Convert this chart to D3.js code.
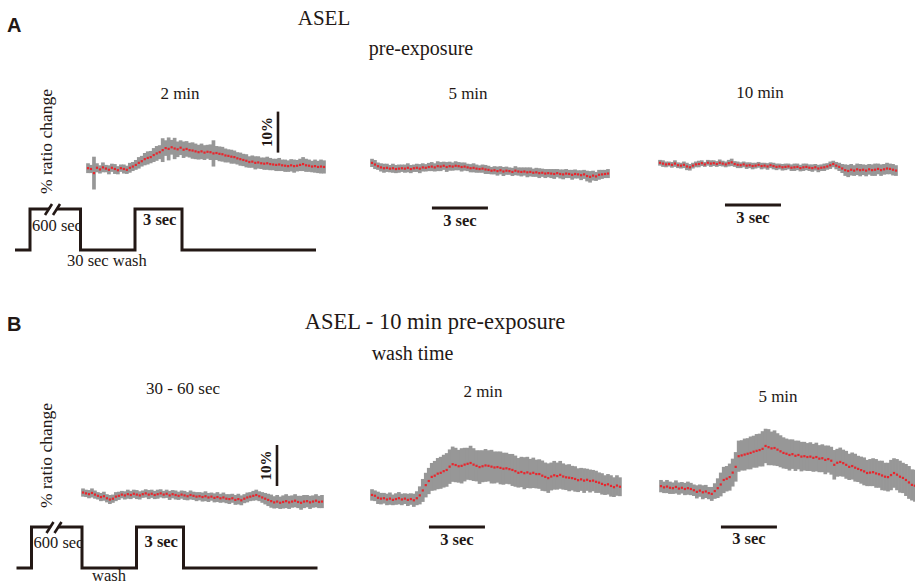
<!DOCTYPE html>
<html><head><meta charset="utf-8">
<script src="https://cdn.jsdelivr.net/npm/d3@7"></script>
<style>
html,body{margin:0;padding:0;background:#fff;}
svg{display:block;}
text{fill:#231815;font-family:"Liberation Serif","Times New Roman",serif;}
</style></head><body>
<svg id="fig" width="915" height="585"></svg>
<script>
// Sampling interval of the calcium imaging traces (s)
const dt = 0.16;

// A: ASEL ratio change (%) after 2, 5 and 10 min pre-exposure — mean and SEM per frame
const preExp2Mean = [0.2,0.0,-1.0,0.3,-0.1,0.4,0.1,-0.2,0.3,0.0,-0.3,0.2,0.0,-0.2,0.3,0.6,
  1.0,1.5,1.9,2.4,2.7,2.9,3.4,3.8,4.1,4.6,5.1,
  4.9,5.3,5.0,4.8,5.2,4.7,4.9,4.6,4.5,4.3,4.1,
  4.3,4.0,4.2,4.1,3.8,3.9,3.7,3.6,3.3,3.2,
  3.0,2.9,2.6,2.4,2.2,2.0,1.7,1.8,1.5,1.6,
  1.4,1.3,1.4,1.2,1.1,1.0,1.1,0.9,0.8,0.7,
  0.9,0.7,0.8,1.0,1.2,0.9,0.8,0.6,0.7,0.5,0.6,0.5];
const preExp2Sem = [1.2,1.0,4.0,1.1,1.0,1.2,0.9,1.1,1.0,1.2,1.0,0.9,1.1,1.0,1.2,1.1,
  1.2,1.4,1.3,1.5,1.6,1.5,1.7,1.8,1.7,2.9,1.9,
  2.8,1.8,2.6,1.9,1.8,2.0,1.9,1.8,2.0,1.9,1.8,
  1.9,1.8,1.7,1.9,3.2,1.7,1.8,1.8,1.7,1.6,
  1.7,1.6,1.5,1.6,1.5,1.6,1.4,1.5,1.6,1.5,
  1.4,1.5,1.6,1.5,1.4,1.5,1.6,1.4,1.5,1.4,
  1.5,1.6,1.4,1.5,1.7,1.6,1.5,1.4,1.6,1.5,1.7,1.6];

const preExp5Mean = [1.0,0.6,0.2,-0.1,-0.3,-0.2,-0.4,-0.3,-0.5,-0.4,
  -0.3,-0.4,-0.2,-0.5,-0.3,-0.2,-0.4,-0.1,-0.2,0.0,
  0.1,-0.1,0.2,0.1,0.3,0.0,0.2,0.1,0.3,0.2,
  0.0,0.1,-0.1,-0.3,-0.2,-0.4,-0.5,-0.4,-0.6,-0.7,
  -0.9,-0.8,-1.0,-0.8,-1.1,-0.9,-1.0,-1.2,-0.9,-1.1,
  -1.2,-1.1,-1.3,-1.2,-1.4,-1.3,-1.5,-1.4,-1.6,-1.5,
  -1.6,-1.7,-1.5,-1.7,-1.8,-1.6,-1.7,-1.9,-1.7,-1.8,
  -2.0,-1.8,-2.2,-2.4,-2.1,-2.3,-1.9,-1.8,-1.7,-1.6];
const preExp5Sem = [1.0,1.1,0.9,1.0,1.1,1.0,0.9,1.1,1.0,1.0,
  0.9,1.0,1.1,1.0,0.9,1.0,1.1,1.0,0.9,1.0,
  1.1,1.0,1.2,1.1,1.0,1.2,1.1,1.0,1.1,1.0,
  1.1,1.0,0.9,1.0,1.1,1.0,0.9,1.0,1.1,1.0,
  0.9,1.0,1.1,1.0,1.1,1.0,0.9,1.0,1.1,1.0,
  1.1,1.0,1.2,1.1,1.0,1.1,1.2,1.0,1.1,1.0,
  1.1,1.2,1.0,1.1,1.2,1.1,1.0,1.2,1.1,1.0,
  1.2,1.1,1.3,1.4,1.2,1.1,1.2,1.1,1.0,1.1];

const preExp10Mean = [0.3,0.1,-0.1,0.0,-0.2,0.1,-0.3,-0.4,-0.2,-0.6,
  -0.8,-0.4,-0.1,0.0,0.2,-0.1,0.3,0.1,0.2,0.0,
  0.3,0.1,-0.1,0.2,0.4,0.0,-0.2,-0.3,-0.1,-0.4,
  -0.3,-0.5,-0.4,-0.2,-0.5,-0.4,-0.6,-0.3,-0.5,-0.7,
  -0.6,-0.8,-0.7,-0.6,-0.9,-0.8,-0.7,-1.0,-0.8,-0.7,
  -0.9,-1.0,-0.8,-1.1,-0.9,-0.8,-0.6,-0.3,0.0,-0.4,
  -0.7,-1.1,-1.5,-1.7,-1.4,-1.6,-1.3,-1.5,-1.4,-1.6,
  -1.3,-1.5,-1.4,-1.2,-1.5,-1.3,-1.1,-1.2,-1.4,-1.6];
const preExp10Sem = [0.7,0.8,0.7,0.6,0.7,0.8,0.7,0.7,0.8,0.9,
  0.8,0.7,0.7,0.8,0.7,0.6,0.7,0.8,0.7,0.7,
  0.8,0.7,0.7,0.8,0.9,0.7,0.8,0.7,0.7,0.8,
  0.7,0.8,0.7,0.7,0.8,0.7,0.8,0.7,0.8,0.8,
  0.7,0.8,0.8,0.7,0.8,0.9,0.8,0.8,0.9,0.8,
  0.8,0.9,0.8,0.9,0.8,0.9,0.8,0.9,0.8,0.9,
  1.0,1.1,1.4,1.5,1.4,1.3,1.4,1.5,1.3,1.4,
  1.3,1.4,1.5,1.3,1.4,1.3,1.4,1.3,1.4,1.3];

// B: ASEL after 10 min pre-exposure, imaged 30-60 s, 2 min and 5 min into the wash
const wash30Mean = [0.6,0.4,0.2,0.5,0.1,-0.2,-0.5,-0.3,-0.8,-1.1,
  -0.9,-0.4,-0.2,0.1,-0.1,0.2,0.0,0.3,0.1,-0.1,
  0.2,0.4,0.1,0.3,0.0,0.2,0.4,0.1,0.3,-0.1,
  0.2,0.0,-0.2,0.1,-0.1,-0.3,0.0,-0.2,-0.4,-0.3,
  -0.5,-0.3,-0.6,-0.4,-0.7,-0.5,-0.8,-0.6,-0.9,-1.0,
  -0.8,-1.2,-1.0,-1.3,-0.9,-0.6,-0.4,-0.2,0.0,-0.3,
  -0.6,-0.9,-1.2,-1.5,-1.8,-1.6,-1.9,-1.7,-1.5,-1.8,
  -1.6,-1.4,-1.7,-1.9,-1.6,-1.5,-1.8,-1.6,-1.4,-1.7,-1.6];
const wash30Sem = [1.0,0.9,1.0,1.1,1.0,0.9,1.0,1.1,1.0,1.1,
  1.0,1.1,1.0,0.9,1.0,1.1,1.0,1.0,1.1,1.0,
  0.9,1.0,1.1,1.0,1.0,1.1,1.0,0.9,1.0,1.1,
  1.0,1.1,1.0,1.0,1.1,1.0,1.1,1.0,1.1,1.0,
  1.1,1.2,1.1,1.0,1.1,1.2,1.1,1.2,1.1,1.2,
  1.1,1.2,1.3,1.2,1.1,1.2,1.1,1.2,1.3,1.2,
  1.3,1.4,1.5,1.6,1.5,1.6,1.5,1.6,1.7,1.6,
  1.5,1.6,1.5,1.7,1.6,1.5,1.6,1.5,1.6,1.5,1.6];

const wash2Mean = [0.5,0.3,-0.2,-0.4,-0.3,-0.6,-0.4,-0.7,-0.5,-0.3,-0.6,-0.4,-0.7,-0.5,-0.8,-0.3,
  0.4,1.6,2.9,3.9,4.9,5.2,5.7,5.9,6.3,6.6,7.4,8.0,
  7.8,7.5,7.6,7.9,8.1,8.3,7.9,7.6,7.3,7.5,7.7,7.6,7.4,7.2,7.3,7.1,
  6.9,7.0,6.8,6.6,6.3,5.9,6.1,5.8,6.0,5.7,5.9,5.6,5.6,
  5.2,4.9,4.6,5.0,5.3,5.1,5.4,5.0,4.8,4.7,4.6,4.4,4.1,4.3,4.0,4.2,3.9,4.0,3.7,3.5,3.2,2.9,3.1,2.7,2.4,2.8,2.5];
const wash2Sem = [1.4,1.3,1.5,1.4,1.3,1.4,1.5,1.3,1.4,1.5,1.4,1.3,1.5,1.4,1.6,1.7,
  2.2,2.8,3.0,3.2,3.4,3.6,3.8,3.9,4.0,4.1,4.2,4.3,
  4.2,4.0,4.3,4.1,3.9,4.2,4.0,3.8,4.1,3.9,4.0,3.8,4.1,3.9,3.8,4.0,
  3.9,3.8,3.7,3.9,3.8,3.6,3.7,3.9,3.8,3.6,3.7,3.5,3.6,
  3.7,3.5,3.6,3.4,3.5,3.3,3.4,3.2,3.1,3.3,3.0,3.1,2.9,2.8,3.0,2.7,2.8,2.6,2.7,2.5,2.6,2.4,2.5,2.6,2.4,2.5,2.3];

const wash5Mean = [0.7,0.4,0.6,0.3,0.2,0.5,0.1,0.3,0.0,0.2,
  0.0,-0.3,-0.7,-0.4,-0.8,-0.6,-1.0,-1.2,-0.5,0.2,
  1.1,2.2,2.5,2.9,4.0,5.4,8.0,8.2,8.4,8.6,
  8.8,9.1,9.3,9.5,9.8,10.5,10.2,9.9,10.0,9.6,
  9.2,8.8,8.6,8.3,8.5,8.1,8.3,7.9,8.0,7.8,
  7.9,7.6,7.8,7.4,7.5,7.1,7.3,6.9,5.9,6.4,
  6.6,6.3,5.9,5.4,5.6,5.2,4.9,4.6,4.3,3.9,
  4.0,4.1,3.8,3.6,3.3,3.0,2.9,3.4,3.9,3.5,
  3.0,2.7,2.2,1.6,1.0,0.8];
const wash5Sem = [1.5,1.4,1.6,1.5,1.4,1.6,1.5,1.4,1.5,1.6,
  1.5,1.4,1.6,1.5,1.7,1.6,1.5,1.7,1.9,2.4,
  2.9,3.2,3.1,3.3,3.4,3.6,3.8,3.7,3.9,3.8,
  4.0,3.9,4.1,4.0,4.3,4.2,4.4,4.1,4.3,4.0,
  3.9,3.8,3.7,3.8,3.6,3.7,3.5,3.6,3.5,3.4,
  3.5,3.4,3.5,3.3,3.4,3.5,3.3,3.4,3.6,3.4,
  3.5,3.3,3.4,3.2,3.3,3.4,3.2,3.3,3.4,3.2,
  3.3,3.4,3.5,3.3,3.6,3.4,3.5,3.7,3.6,3.8,
  3.9,3.7,3.9,4.0,3.8,3.9];

// Stimulus protocol schematic: level (0 = buffer, 1 = NaCl) and relative duration of each step
const stimLevels = [0, 1, 0, 1, 0];
const stimSpans = [1.5, 5.05, 5.45, 4.7, 13.4];

// ---------------------------------------------------------------- drawing
const INK = "#231815", BAND = "#979797", RED = "#e8262d";
const pxPerSec = 18.67, pxPerPct = 4.1;
const svg = d3.select("#fig");

const panels = [
  {name: "2 min", mean: preExp2Mean, sem: preExp2Sem, x0: 88, y0: 169, lx: 180, ly: 99,
   pctBar: {x: 278, from: 4, to: 14, tx: 272}},
  {name: "5 min", mean: preExp5Mean, sem: preExp5Sem, x0: 372, y0: 167, lx: 468, ly: 99,
   secBar: {t: 3.21, y: 208, ty: 226}},
  {name: "10 min", mean: preExp10Mean, sem: preExp10Sem, x0: 660, y0: 164, lx: 760, ly: 98,
   secBar: {t: 3.48, y: 205, ty: 223}},
  {name: "30 - 60 sec", mean: wash30Mean, sem: wash30Sem, x0: 83, y0: 495, lx: 183, ly: 394,
   pctBar: {x: 277, from: 2.2, to: 12.2, tx: 271}},
  {name: "2 min", mean: wash2Mean, sem: wash2Sem, x0: 372, y0: 497, lx: 483, ly: 397,
   secBar: {t: 3.05, y: 527, ty: 545}},
  {name: "5 min", mean: wash5Mean, sem: wash5Sem, x0: 661, y0: 489, lx: 778, ly: 402,
   secBar: {t: 3.21, y: 527, ty: 544}}
];

panels.forEach(p => {
  const x = d3.scaleLinear().domain([0, 1]).range([p.x0, p.x0 + pxPerSec]);
  const y = d3.scaleLinear().domain([0, 1]).range([p.y0, p.y0 - pxPerPct]);
  const g = svg.append("g");
  const half = pxPerSec * dt / 2 + 0.35;

  // SEM band, one bar per frame
  g.append("g").selectAll("rect").data(p.mean).join("rect")
    .attr("x", (d, i) => x(i * dt) - half)
    .attr("width", 2 * half)
    .attr("y", (d, i) => y(d + p.sem[i]))
    .attr("height", (d, i) => y(d - p.sem[i]) - y(d + p.sem[i]))
    .attr("fill", BAND);

  // mean, one dot per frame
  g.append("g").selectAll("rect").data(p.mean).join("rect")
    .attr("x", (d, i) => x(i * dt) - 1.1)
    .attr("y", d => y(d) - 1.1)
    .attr("width", 2.2).attr("height", 2.2)
    .attr("fill", RED);

  g.append("text").attr("x", p.lx).attr("y", p.ly)
    .attr("text-anchor", "middle").style("font-size", "17px").text(p.name);

  if (p.secBar) {
    const b = p.secBar;
    g.append("line").attr("x1", x(b.t)).attr("x2", x(b.t + 3))
      .attr("y1", b.y).attr("y2", b.y).attr("stroke", INK).attr("stroke-width", 3);
    g.append("text").attr("x", (x(b.t) + x(b.t + 3)) / 2).attr("y", b.ty)
      .attr("text-anchor", "middle").style("font-size", "16.5px").style("font-weight", "bold")
      .text("3 sec");
  }
  if (p.pctBar) {
    const b = p.pctBar;
    g.append("line").attr("x1", b.x).attr("x2", b.x)
      .attr("y1", y(b.from)).attr("y2", y(b.to)).attr("stroke", INK).attr("stroke-width", 2.6);
    g.append("text")
      .attr("transform", `translate(${b.tx},${(y(b.from) + y(b.to)) / 2}) rotate(-90)`)
      .attr("text-anchor", "middle").style("font-size", "15px").style("font-weight", "bold")
      .text("10%");
  }
});

// Figure headings
const heads = [
  {t: "A", x: 7, y: 31.5, sans: true},
  {t: "B", x: 7, y: 331, sans: true},
  {t: "ASEL", x: 324, y: 25, size: 21, mid: true},
  {t: "pre-exposure", x: 421, y: 55, size: 20, mid: true},
  {t: "ASEL - 10 min pre-exposure", x: 435, y: 329, size: 22.5, mid: true},
  {t: "wash time", x: 412.5, y: 360, size: 20, mid: true}
];
heads.forEach(h => {
  const t = svg.append("text").attr("x", h.x).attr("y", h.y).text(h.t);
  if (h.sans) t.style("font-family", "'Liberation Sans', Arial, sans-serif")
    .style("font-weight", "bold").style("font-size", "20px");
  else t.style("font-size", h.size + "px");
  if (h.mid) t.attr("text-anchor", "middle");
});

// y-axis captions
[141.5, 455.5].forEach(cy => {
  svg.append("text").attr("transform", `translate(52,${cy}) rotate(-90)`)
    .attr("text-anchor", "middle").style("font-size", "17.5px").text("% ratio change");
});

// Stimulus protocol schematics
const protocols = [
  {x0: 15, yLow: 250, yHigh: 209, stimY: 225, longY: 231, washText: "30 sec wash", washX: 67, washY: 266},
  {x0: 16.5, yLow: 568, yHigh: 527, stimY: 547, longY: 548, washText: "wash", washX: 92, washY: 581}
];
const sx = d3.scaleLinear().domain([0, 1]).range([0, 10]);
protocols.forEach(pr => {
  const g = svg.append("g");
  const ys = d3.scaleLinear().domain([0, 1]).range([pr.yLow, pr.yHigh]);
  const edges = [0];
  stimSpans.forEach(s => edges.push(edges[edges.length - 1] + s));
  const pts = [];
  stimLevels.forEach((lv, i) => {
    pts.push([pr.x0 + sx(edges[i]), ys(lv)]);
    pts.push([pr.x0 + sx(edges[i + 1]), ys(lv)]);
  });

  g.append("text").attr("x", pr.x0 + sx(edges[1]) + 2).attr("y", pr.longY)
    .style("font-size", "16.5px").text("600 sec");
  g.append("text").attr("x", pr.x0 + sx(edges[3]) + 8).attr("y", pr.stimY)
    .style("font-size", "16.5px").style("font-weight", "bold").text("3 sec");
  g.append("text").attr("x", pr.washX).attr("y", pr.washY)
    .style("font-size", "16.5px").text(pr.washText);

  g.append("path").attr("d", d3.line()(pts)).attr("fill", "none")
    .attr("stroke", INK).attr("stroke-width", 3).attr("stroke-linejoin", "miter");

  // axis break on the long exposure
  const bx = pr.x0 + sx(edges[1]) + 19, by = ys(1);
  g.append("polygon")
    .attr("points", `${bx - 1},${by + 3} ${bx + 5},${by + 3} ${bx + 9},${by - 3} ${bx + 3},${by - 3}`)
    .attr("fill", "#fff");
  [0, 8].forEach(o => {
    g.append("line").attr("x1", bx - 4 + o).attr("y1", by + 6)
      .attr("x2", bx + 3 + o).attr("y2", by - 5)
      .attr("stroke", INK).attr("stroke-width", 2.6);
  });
});
</script>
</body></html>
